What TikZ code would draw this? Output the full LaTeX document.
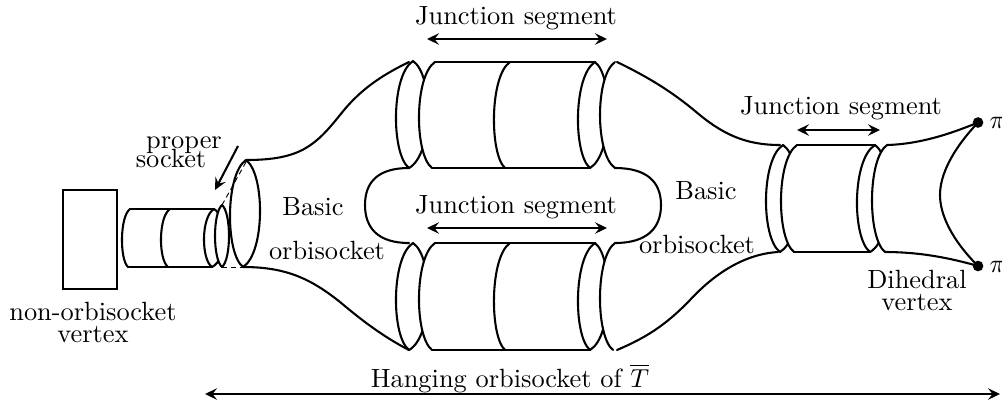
\documentclass[tikz,border=0pt]{standalone}
\usetikzlibrary{arrows.meta}
\newcommand\hump[5]{% x1 y1 x2 y2 bulge
  \pgfmathsetmacro\cx{(4*#5-(#1+#3)/2)/3}
  \pgfmathsetmacro\ca{#2+0.13*(#4-#2)}
  \pgfmathsetmacro\cb{#4-0.13*(#4-#2)}
  \draw[shape line] (#1,#2) .. controls (\cx,\ca) and (\cx,\cb) .. (#3,#4);}
\newcommand\fronthump[5]{% same arc, hiding whatever lies just to its right
  \pgfmathsetmacro\cx{(4*#5-(#1+#3)/2)/3}
  \pgfmathsetmacro\ca{#2+0.13*(#4-#2)}
  \pgfmathsetmacro\cb{#4-0.13*(#4-#2)}
  \fill[white] (#1,#2) .. controls (\cx,\ca) and (\cx,\cb) .. (#3,#4) -- ++(12,0) -- (#1+12,#2) -- cycle;
  \draw[shape line] (#1,#2) .. controls (\cx,\ca) and (\cx,\cb) .. (#3,#4);}
\tikzset{
  x=0.385pt,y=-0.385pt,
  shape line/.style={line width=0.8pt,line cap=round,line join=round},
  span arrow/.style={line width=0.8pt,{Stealth[length=4.6pt,width=4.4pt,inset=1.7pt]}-{Stealth[length=4.6pt,width=4.4pt,inset=1.7pt]}},
  one arrow/.style={line width=0.8pt,-{Stealth[length=4.6pt,width=4.4pt,inset=1.7pt]}},
  hint/.style={line width=0.35pt,dash pattern=on 2pt off 1.4pt},
  label/.style={inner sep=0pt,anchor=base,font=\fontsize{10.15}{12}\selectfont},
  cone/.style={shape line},
  pt/.style={circle,fill=black,inner sep=0pt,minimum size=4.1pt}
}
\begin{document}
\begin{tikzpicture}
\useasboundingbox (0,0) rectangle (1002,407);
% vertex box
\node[draw,line width=0.8pt,inner sep=0pt,minimum width=54*0.385pt,minimum height=99*0.385pt] (box) at (90,239.5) {};
% left cylinder
\hump{130}{209}{128}{267}{122}
\hump{170}{209}{168}{267}{161}
\draw[shape line] (130,209) -- (214,209);
\draw[shape line] (128,267) -- (212,267);
\hump{214}{209}{212}{267}{204}
\hump{214}{209}{212}{267}{224}
\fronthump{222}{205}{222}{267}{215}
\hump{222}{205}{222}{267}{229}
\hump{246}{160}{243}{267}{230}
\hump{246}{160}{243}{267}{260}
\draw[hint] (246,162) -- (222,205);
\draw[hint] (222,267) -- (243,267);
% basic orbisocket left
\draw[cone] (246,160) .. controls (300,160) and (315,146) .. (340,115) .. controls (358,92) and (378,77) .. (409,62);
\draw[cone] (243,267) .. controls (285,267) and (310,278) .. (340,302) .. controls (358,317) and (380,335) .. (409,350);
% upper junction
\hump{413}{61}{409}{168}{396}
\hump{413}{61}{409}{168}{428}
\fronthump{435}{62}{432}{168}{419}
\hump{510}{62}{505}{168}{494}
\hump{595}{62}{590}{168}{578}
\hump{595}{62}{590}{168}{608}
\fronthump{615}{62}{615}{168}{600}
\draw[shape line] (435,62) -- (595,62);
\draw[shape line] (432,168) -- (590,168);
% lower junction
\hump{413}{243}{409}{350}{396}
\hump{413}{243}{409}{350}{428}
\fronthump{435}{243}{432}{350}{419}
\hump{510}{243}{505}{350}{494}
\hump{595}{243}{590}{350}{578}
\hump{595}{243}{590}{350}{608}
\fronthump{615}{243}{613}{350}{600}
\draw[shape line] (435,243) -- (595,243);
\draw[shape line] (432,350) -- (590,350);
% inner loop
\draw[cone] (409,168) .. controls (378,168) and (365,182) .. (365,205) .. controls (365,228) and (378,243) .. (409,243);
\draw[cone] (615,168) .. controls (647,168) and (661,182) .. (661,205) .. controls (661,228) and (647,243) .. (615,243);
% basic orbisocket right
\draw[cone] (617,62) .. controls (650,78) and (672,92) .. (695,111) .. controls (722,134) and (745,145) .. (780,145);
\draw[cone] (617,350) .. controls (645,338) and (665,326) .. (690,300) .. controls (715,273) and (745,254) .. (778,252);
% right junction
\hump{783}{145}{780}{252}{766}
\hump{783}{145}{780}{252}{798}
\fronthump{797}{145}{794}{252}{781}
\hump{875}{145}{870}{252}{857}
\hump{875}{145}{870}{252}{889}
\fronthump{887}{145}{885}{252}{872}
\draw[shape line] (797,145) -- (875,145);
\draw[shape line] (794,252) -- (870,252);
% dihedral vertex
\node[pt] (p1) at (978,122.5) {};
\node[pt] (p2) at (978,266) {};
\draw[cone] (887,145) .. controls (920,144) and (950,134) .. (p1.center);
\draw[cone] (885,252) .. controls (920,252) and (950,258) .. (p2.center);
\draw[cone] (p1.center) .. controls (952,150) and (940,175) .. (940,195) .. controls (940,215) and (952,240) .. (p2.center);
\node[label,anchor=base west] (pi1) at (989,128) {$\pi$};
\node[label,anchor=base west] (pi2) at (989,272) {$\pi$};
% spans
\coordinate (a1) at (427,39); \coordinate (a2) at (607,39);
\coordinate (b1) at (427,228); \coordinate (b2) at (607,228);
\coordinate (c1) at (797,130); \coordinate (c2) at (880,130);
\coordinate (d1) at (205,394); \coordinate (d2) at (1000,394);
\coordinate (e1) at (238,146); \coordinate (e2) at (215,190);
\draw[span arrow] (a1) -- (a2);
\draw[span arrow] (b1) -- (b2);
\draw[span arrow] (c1) -- (c2);
\draw[span arrow] (d1) -- (d2);
\draw[one arrow] (e1) -- (e2);
% labels
\node[label] (l1) at (516,24) {Junction segment};
\node[label] (l2) at (516,213) {Junction segment};
\node[label] (l3) at (841,114) {Junction segment};
\node[label] (l4) at (313,215) {Basic};
\node[label] (l5) at (327,259) {orbisocket};
\node[label] (l6) at (706,199) {Basic};
\node[label] (l7) at (697,253) {orbisocket};
\node[label] (l8) at (184,148) {proper};
\node[label] (l9) at (171,167) {socket};
\node[label] (l10) at (93,320) {non-orbisocket};
\node[label] (l11) at (93,342) {vertex};
\node[label] (l12) at (917,288) {Dihedral};
\node[label] (l13) at (917,310) {vertex};
\node[label] (l14) at (510,387) {Hanging orbisocket of $\overline{T}$};
\end{tikzpicture}
\end{document}
